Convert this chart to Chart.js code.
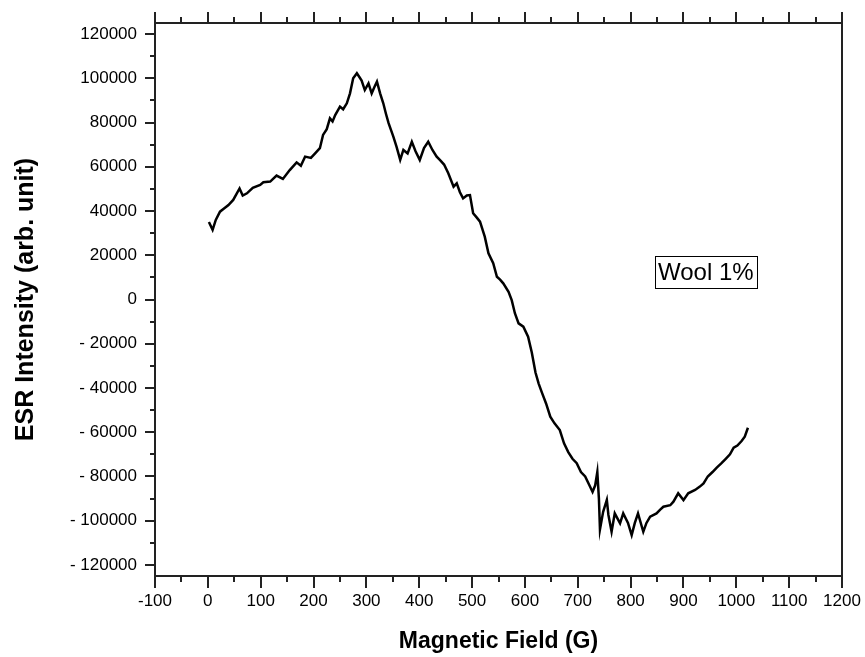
<!DOCTYPE html>
<html>
<head>
<meta charset="utf-8">
<script src="https://cdn.jsdelivr.net/npm/chart.js@4.4.1/dist/chart.umd.min.js"></script>
<style>
  html, body { margin: 0; padding: 0; background: #fff; }
  canvas { display: block; }
</style>
</head>
<body>
<canvas id="c" width="865" height="657"></canvas>
<script>
// ---- data ----
const fieldG = [
  2, 9, 15, 23, 30, 39, 48, 60, 66, 74, 85, 99, 105, 118, 130, 142, 155, 168, 176, 184,
  195, 203, 212, 218, 225, 231, 236, 241, 250, 256, 263, 269, 275, 282, 287, 291, 297, 304, 310, 315,
  320, 326, 332, 337, 342, 351, 357, 364, 370, 378, 386, 393, 401, 409, 417, 425, 433, 439, 447, 455,
  465, 471, 477, 483, 490, 496, 502, 509, 515, 524, 531, 540, 547, 553, 559, 569, 575, 581, 588, 597,
  606, 613, 620, 626, 632, 640, 648, 656, 666, 674, 682, 690, 698, 706, 714, 722, 728, 733, 737, 740,
  742, 748, 755, 758, 764, 770, 780, 786, 795, 802, 808, 814, 824, 830, 837, 849, 856, 862, 875, 881,
  890, 900, 909, 922, 931, 938, 946, 955, 963, 972, 980, 988, 995, 1002, 1010, 1016, 1022
];
const intensity = [
  35000, 31500, 36000, 39700, 41000, 42700, 45000, 50200, 47000, 48000, 50500, 51800, 53000, 53300, 56000, 54500, 58500, 62000, 60500, 64600,
  64000, 66100, 68400, 74400, 77000, 81900, 80500, 83400, 87200, 86000, 88700, 93200, 100000, 102300, 100500, 99000, 94700, 97700, 93200, 96000,
  98500, 93200, 88700, 84000, 79700, 73600, 69100, 63100, 67600, 66000, 71300, 67000, 63100, 68500, 71300, 67600, 64600, 63100, 61000, 57100,
  51000, 52500, 48500, 45700, 47000, 47200, 39000, 37000, 35200, 28400, 20900, 16400, 10300, 9000, 7300, 3500, -300, -6200, -10800, -12300,
  -16800, -24000, -33000, -38000, -42000, -47000, -53000, -56000, -59000, -65000, -69000, -72000, -74000, -78000, -80000, -84000, -87000, -84000, -78000, -90000,
  -104000, -96000, -90600, -97400, -105000, -96700, -101200, -96700, -101000, -106500, -101000, -96700, -105000, -101000, -98200, -96700, -95000, -93700, -93000, -91400,
  -87600, -90700, -87600, -86100, -84600, -83100, -80000, -78000, -76000, -74000, -72000, -70000, -67000, -66000, -64000, -62000, -58000
];
const xTicks = [-100, 0, 100, 200, 300, 400, 500, 600, 700, 800, 900, 1000, 1100, 1200];
const xMinorTicks = [-50, 50, 150, 250, 350, 450, 550, 650, 750, 850, 950, 1050, 1150];
const yTicks = [-120000, -100000, -80000, -60000, -40000, -20000, 0, 20000, 40000, 60000, 80000, 100000, 120000];
const yMinorTicks = [-110000, -90000, -70000, -50000, -30000, -10000, 10000, 30000, 50000, 70000, 90000, 110000];
const xRange = [-100, 1200];
const yRange = [-125000, 125000];
const labelText = 'Wool 1%';
const labelPos = { x: 846, y: 19700 };
const xTitle = 'Magnetic Field (G)';
const yTitle = 'ESR Intensity (arb. unit)';

const points = fieldG.map((x, i) => ({ x: x, y: intensity[i] }));
const FONT = "'Liberation Sans', Arial, Helvetica, sans-serif";
const AXIS = '#222';

const framePlugin = {
  id: 'frame',
  afterDraw(chart) {
    const ctx = chart.ctx;
    const a = chart.chartArea;
    const xs = chart.scales.x, ys = chart.scales.y;
    ctx.save();
    ctx.strokeStyle = AXIS;
    ctx.lineWidth = 2;
    ctx.lineCap = 'butt';
    ctx.strokeRect(a.left, a.top, a.right - a.left, a.bottom - a.top);
    ctx.beginPath();
    const tick = (x1, y1, x2, y2) => { ctx.moveTo(x1, y1); ctx.lineTo(x2, y2); };
    xTicks.forEach(v => {
      const px = Math.round(xs.getPixelForValue(v));
      tick(px, a.bottom, px, a.bottom + 12);
      tick(px, a.top, px, a.top - 11);
    });
    xMinorTicks.forEach(v => {
      const px = Math.round(xs.getPixelForValue(v));
      tick(px, a.bottom, px, a.bottom + 6);
      tick(px, a.top, px, a.top - 6);
    });
    yTicks.forEach(v => {
      const py = Math.round(ys.getPixelForValue(v));
      tick(a.left, py, a.left - 10, py);
    });
    yMinorTicks.forEach(v => {
      const py = Math.round(ys.getPixelForValue(v));
      tick(a.left, py, a.left - 5, py);
    });
    ctx.stroke();

    // text label box
    ctx.font = '24px ' + FONT;
    ctx.fillStyle = '#000';
    ctx.textBaseline = 'middle';
    ctx.textAlign = 'left';
    const bx = Math.round(xs.getPixelForValue(labelPos.x));
    const by = Math.round(ys.getPixelForValue(labelPos.y));
    const tw = ctx.measureText(labelText).width;
    const bw = Math.round(tw + 6), bh = 32;
    ctx.lineWidth = 1;
    ctx.strokeStyle = '#000';
    ctx.strokeRect(bx + 0.5, by + 0.5, bw, bh);
    ctx.fillText(labelText, bx + 3, by + bh / 2 + 1);
    ctx.restore();
  }
};

const noEdgePadding = s => { s.paddingLeft = 0; s.paddingRight = 0; s.paddingTop = 0; s.paddingBottom = 0; };

new Chart(document.getElementById('c'), {
  type: 'scatter',
  data: {
    datasets: [{
      data: points,
      showLine: true,
      borderColor: '#000',
      backgroundColor: '#000',
      borderWidth: 2.5,
      pointRadius: 0,
      tension: 0
    }]
  },
  options: {
    responsive: false,
    animation: false,
    devicePixelRatio: 1,
    layout: { padding: { top: 23, right: 23, left: 0, bottom: 0 } },
    plugins: { legend: { display: false }, tooltip: { enabled: false } },
    scales: {
      x: {
        type: 'linear',
        min: xRange[0], max: xRange[1],
        afterBuildTicks: s => { s.ticks = xTicks.map(v => ({ value: v })); },
        afterFit: s => { s.height = 81; noEdgePadding(s); },
        grid: { display: false, drawTicks: false },
        border: { display: false },
        ticks: {
          autoSkip: false, maxRotation: 0, padding: 15, color: '#000',
          font: { family: FONT, size: 17 },
          callback: v => String(v)
        },
        title: {
          display: true, text: xTitle, color: '#000',
          font: { family: FONT, size: 23, weight: 'bold' },
          padding: { top: 0, bottom: 2 }
        }
      },
      y: {
        type: 'linear',
        min: yRange[0], max: yRange[1],
        afterBuildTicks: s => { s.ticks = yTicks.map(v => ({ value: v })); },
        afterFit: s => { s.width = 155; noEdgePadding(s); },
        grid: { display: false, drawTicks: false },
        border: { display: false },
        ticks: {
          autoSkip: false, padding: 18, color: '#000',
          font: { family: FONT, size: 17 },
          callback: v => v < 0 ? '- ' + Math.abs(v) : String(v)
        },
        title: {
          display: true, text: yTitle, color: '#000',
          font: { family: FONT, size: 25, weight: 'bold' },
          padding: { top: 11, bottom: 0 }
        }
      }
    }
  },
  plugins: [framePlugin]
});
</script>
</body>
</html>
